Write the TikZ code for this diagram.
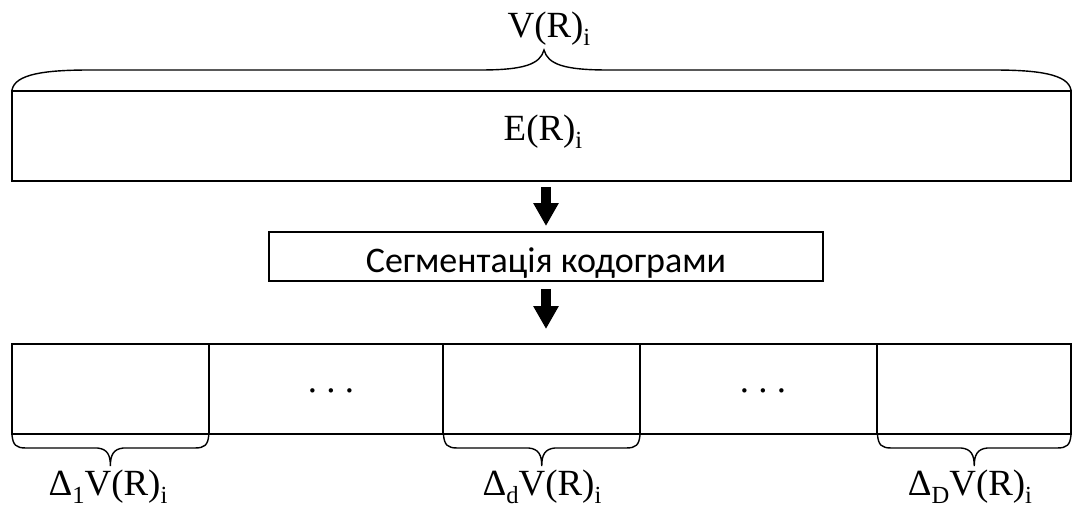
\documentclass[tikz,border=0pt]{standalone}
\usepackage{fontspec}
\setmainfont{Liberation Serif}
\newfontfamily\segfont{Carlito}
\usetikzlibrary{arrows.meta,positioning}

% lowered small index, as in the word-processor original
\newcommand{\lowsub}[1]{\raisebox{-0.23em}{\fontsize{14}{14}\selectfont #1}}

% brace under a cell, from x=#1 to x=#2
\newcommand{\cellbrace}[2]{%
  \draw[bracestyle] (#1,435) .. controls ({#1+1},445) and ({#1+4},448) .. ({#1+14},448)
    -- ({(#1+#2)/2-13},448) .. controls ({(#1+#2)/2-3},449) and ({(#1+#2)/2},455) .. ({(#1+#2)/2},466)
    .. controls ({(#1+#2)/2},455) and ({(#1+#2)/2+3},449) .. ({(#1+#2)/2+13},448)
    -- ({#2-14},448) .. controls ({#2-4},448) and ({#2-1},445) .. (#2,435);}

\begin{document}
\begin{tikzpicture}[x=0.02cm,y=-0.02cm,
    box/.style={draw,line width=1.1pt,inner sep=0pt,outer sep=0pt},
    cell/.style={box,minimum height=1.8cm},
    bracestyle/.style={line width=0.8pt},
    blockarrow/.style={line width=0.19cm,-{Triangle[width=0.48cm,length=0.46cm]}},
    lbl/.style={font=\fontsize{21}{24}\selectfont,inner sep=0pt,anchor=base}]
  \useasboundingbox (0,0) rectangle (1073,507);

  \node[box,minimum width=21.18cm,minimum height=1.8cm] (big) at (541.5,136) {};
  \node[lbl] (elbl) at (543,140) {E(R)\lowsub{i}};
  \node[lbl] (vlbl) at (549,37) {V(R)\lowsub{i}};
  \draw[bracestyle] (12,90) .. controls (15,74) and (45,70) .. (90,70) -- (480,70)
    .. controls (525,70) and (540,64) .. (544,50)
    .. controls (548,64) and (563,70) .. (608,70) -- (993,70)
    .. controls (1038,70) and (1068,74) .. (1071,90);

  \node[box,minimum width=11.08cm,minimum height=0.98cm] (seg) at (546,256.5) {};
  \node[lbl,font=\segfont\fontsize{20.5}{24}\selectfont] (segtxt) at (546,272) {Сегментація кодограми};

  \node[cell,minimum width=3.94cm] (c1) at (110.4,389) {};
  \node[cell,minimum width=4.69cm,right=0pt of c1] (c2) {};
  \node[cell,minimum width=3.93cm,right=0pt of c2] (c3) {};
  \node[cell,minimum width=4.75cm,right=0pt of c3] (c4) {};
  \node[cell,minimum width=3.87cm,right=0pt of c4] (c5) {};
  \node[lbl] (dots1) at (331,392) {.\ .\ .};
  \node[lbl] (dots2) at (763,392) {.\ .\ .};

  \draw[blockarrow,shorten <=0.12cm,shorten >=0.12cm] (seg.north |- big.south) -- (seg.north);
  \draw[blockarrow,shorten <=0.16cm,shorten >=0.3cm] (seg.south) -- (seg.south |- c3.north);

  \cellbrace{12}{208.8}
  \cellbrace{443.5}{640}
  \cellbrace{877.5}{1071}

  \node[lbl] (d1) at (108,495) {Δ\lowsub{1}V(R)\lowsub{i}};
  \node[lbl] (dd) at (542,495) {Δ\lowsub{d}V(R)\lowsub{i}};
  \node[lbl] (dD) at (970,495) {Δ\lowsub{D}V(R)\lowsub{i}};
\end{tikzpicture}
\end{document}
